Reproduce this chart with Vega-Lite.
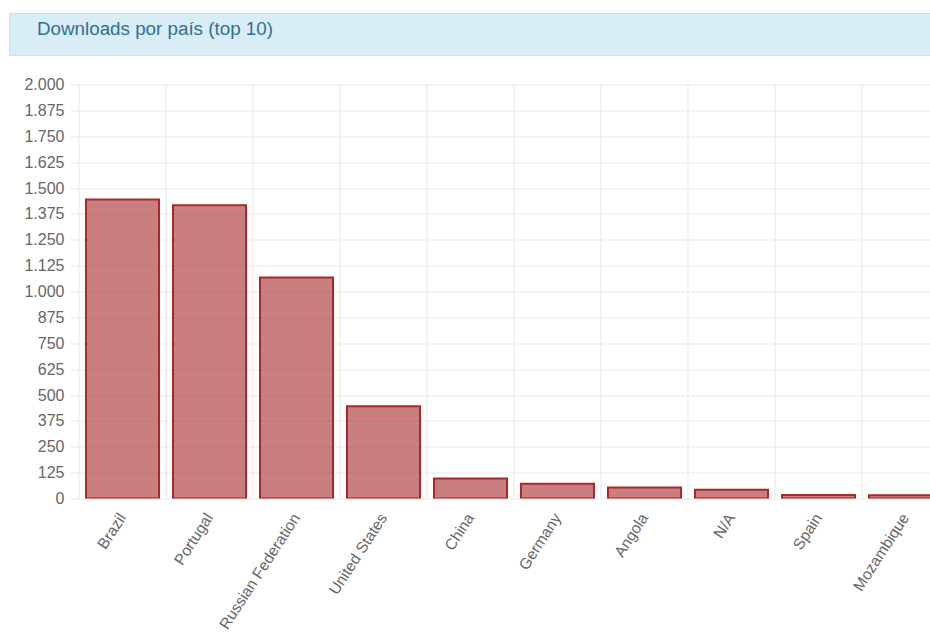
{
  "$schema": "https://vega.github.io/schema/vega-lite/v6.json",
  "padding": {"left": 8, "top": 12, "right": 0, "bottom": 0},
  "background": "white",
  "spacing": 20.5,
  "config": {
    "locale": {"number": {"decimal": ",", "thousands": ".", "grouping": [3], "currency": ["R$", ""]}},
    "font": "Liberation Sans",
    "view": {"stroke": null},
    "axisX": {
      "grid": false,
      "ticks": false,
      "domain": false,
      "labelAngle": -57,
      "labelAlign": "right",
      "labelBaseline": "middle",
      "labelPadding": 16,
      "labelOffset": 0,
      "labelFontSize": 15.5,
      "labelColor": "#666666",
      "labelFont": "Liberation Sans",
      "labelOverlap": false,
      "labelLimit": 300,
      "title": null
    }
  },
  "datasets": {
    "top": [
      {"country": "Brazil", "downloads": 1444},
      {"country": "Portugal", "downloads": 1417},
      {"country": "Russian Federation", "downloads": 1068},
      {"country": "United States", "downloads": 446},
      {"country": "China", "downloads": 97},
      {"country": "Germany", "downloads": 71},
      {"country": "Angola", "downloads": 53},
      {"country": "N/A", "downloads": 42},
      {"country": "Spain", "downloads": 17},
      {"country": "Mozambique", "downloads": 16}
    ]
  },
  "vconcat": [
    {
      "width": 923,
      "height": 42,
      "view": {"fill": "#d9edf7", "stroke": "#bce8f1", "strokeWidth": 1},
      "title": {
        "text": "Downloads por país (top 10)",
        "anchor": "start",
        "frame": "group",
        "offset": 0,
        "dy": 40.3,
        "dx": 28,
        "baseline": "alphabetic",
        "fontSize": 18.8,
        "fontWeight": "normal",
        "color": "#31708f",
        "font": "Liberation Sans"
      },
      "data": {"values": [{"t": 1}]},
      "mark": {"type": "rect", "opacity": 0},
      "encoding": {}
    },
    {
      "width": 922,
      "height": 414,
      "data": {"name": "top"},
      "resolve": {"axis": {"y": "independent"}},
      "layer": [
        {
          "mark": {"type": "rule", "color": "#e6e6e6", "strokeWidth": 1, "y2Offset": 8},
          "encoding": {
            "x": {
              "field": "country",
              "type": "nominal",
              "sort": null,
              "title": null,
              "bandPosition": -0.35294,
              "scale": {"type": "band", "paddingInner": 0.41379, "paddingOuter": 0.505745, "align": 1}
            }
          }
        },
        {
          "mark": {"type": "point", "opacity": 0},
          "encoding": {
            "x": {
              "field": "country",
              "type": "nominal",
              "sort": null,
              "title": null,
              "scale": {"type": "band", "paddingInner": 0.41379, "paddingOuter": 0.505745, "align": 1}
            },
            "y": {
              "field": "downloads",
              "type": "quantitative",
              "title": null,
              "scale": {"domain": [0, 2000], "nice": false},
              "axis": {
                "orient": "left",
                "offset": -70,
                "values": [0, 125, 250, 375, 500, 625, 750, 875, 1000, 1125, 1250, 1375, 1500, 1625, 1750, 1875, 2000],
                "labels": false,
                "grid": false,
                "domain": false,
                "ticks": true,
                "tickSize": -852,
                "tickColor": "#e9e9e9",
                "title": null
              }
            }
          }
        },
        {
          "mark": {
            "type": "bar",
            "fill": "#a52a2a",
            "fillOpacity": 0.6,
            "stroke": "#a52a2a",
            "strokeWidth": 2,
            "width": {"band": 1.43137},
            "clip": true
          },
          "encoding": {
            "x": {
              "field": "country",
              "type": "nominal",
              "sort": null,
              "title": null,
              "scale": {"type": "band", "paddingInner": 0.41379, "paddingOuter": 0.505745, "align": 1}
            },
            "y": {
              "field": "downloads",
              "type": "quantitative",
              "title": null,
              "scale": {"domain": [0, 2000], "nice": false},
              "axis": {
                "orient": "left",
                "offset": -70,
                "values": [0, 125, 250, 375, 500, 625, 750, 875, 1000, 1125, 1250, 1375, 1500, 1625, 1750, 1875, 2000],
                "format": ",d",
                "grid": false,
                "domain": false,
                "ticks": true,
                "tickSize": 9,
                "tickColor": "#e6e6e6",
                "labelPadding": 6,
                "labelFontSize": 16,
                "labelColor": "#666666",
                "labelFont": "Liberation Sans"
              }
            }
          }
        }
      ]
    }
  ]
}
